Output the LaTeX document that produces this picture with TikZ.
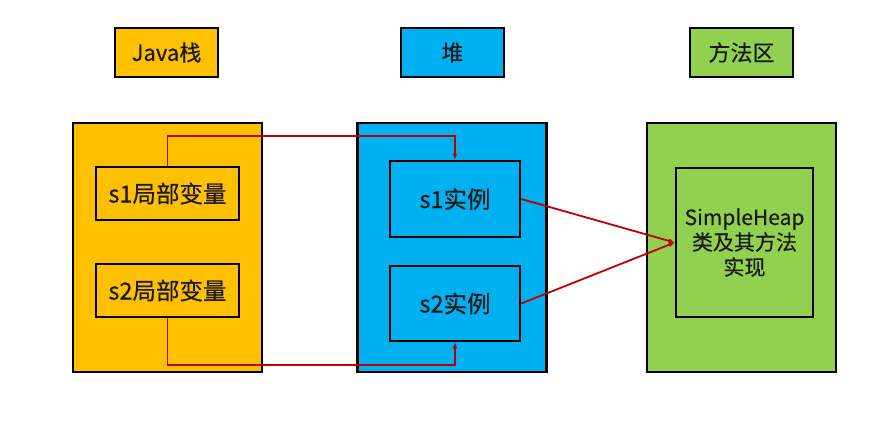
\documentclass[tikz,border=0pt]{standalone}
\usepackage{fontspec}
\setmainfont{Noto Sans CJK SC}[FakeBold=0.5]
\usetikzlibrary{arrows.meta}
\definecolor{cOrange}{HTML}{FFC000}
\definecolor{cBlue}{HTML}{00B0F0}
\definecolor{cGreen}{HTML}{92D050}
\definecolor{cRed}{HTML}{C00000}
\definecolor{cText}{HTML}{1A1A1A}
\tikzset{
  box/.style={draw=black, line width=2.5bp, inner sep=0pt, anchor=center, text=cText},
  titlebox/.style={box, minimum width=103bp, minimum height=49bp, font=\fontsize{22bp}{26bp}\selectfont},
  bigbox/.style={box, minimum width=189bp, minimum height=249bp},
  innerbox/.style={box, font=\fontsize{23.5bp}{26bp}\selectfont, align=center},
  clsbox/.style={box, font=\fontsize{21bp}{25bp}\selectfont, align=center},
  link/.style={draw=cRed, line width=1.8bp, -{Latex[length=6bp,width=5bp]}}
}
\begin{document}
\begin{tikzpicture}[x=1bp,y=-1bp]
\useasboundingbox (0,0) rectangle (869,429);
% titles
\node[titlebox, fill=cOrange] (t1) at (166.5,52.5) {Java栈};
\node[titlebox, fill=cBlue] (t2) at (452.5,52.5) {堆};
\node[titlebox, fill=cGreen] (t3) at (741.5,52.5) {方法区};
% big boxes
\node[bigbox, fill=cOrange] (stack) at (167.5,247.5) {};
\node[bigbox, fill=cBlue] (heap) at (452,247.5) {};
\node[bigbox, fill=cGreen] (method) at (741.5,247.5) {};
% inner boxes
\node[innerbox, fill=cOrange, minimum width=143bp, minimum height=53bp] (s1l) at (167.5,193.5) {s1局部变量};
\node[innerbox, fill=cOrange, minimum width=143bp, minimum height=53bp] (s2l) at (167.5,290.5) {s2局部变量};
\node[innerbox, fill=cBlue, minimum width=130bp, minimum height=76bp] (s1i) at (455,199) {s1实例};
\node[innerbox, fill=cBlue, minimum width=130bp, minimum height=75bp] (s2i) at (455,303.5) {s2实例};
\node[clsbox, fill=cGreen, minimum width=137bp, minimum height=149bp] (cls) at (744.5,242.5) {SimpleHeap\\类及其方法\\实现};
% connectors
\draw[link] (s1l.north) -- ++(0,-30) -| (s1i.north);
\draw[link] (s2l.south) -- ++(0,47) -| (s2i.south);
\draw[link] (s1i.east) -- (cls.west);
\draw[link] (s2i.east) -- (cls.west);
\end{tikzpicture}
\end{document}
